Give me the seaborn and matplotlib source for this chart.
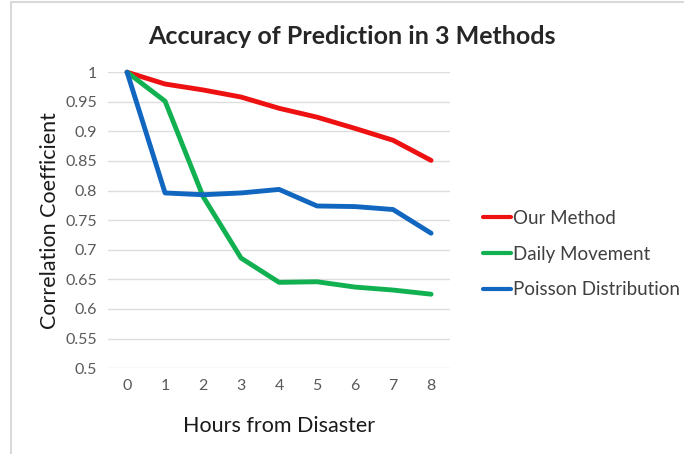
import pandas as pd
import matplotlib.pyplot as plt
import seaborn as sns
from matplotlib.lines import Line2D

hours = [0, 1, 2, 3, 4, 5, 6, 7, 8]
our_method = [1.0, 0.980, 0.970, 0.958, 0.939, 0.924, 0.905, 0.885, 0.851]
daily_movement = [1.0, 0.951, 0.790, 0.686, 0.645, 0.646, 0.637, 0.632, 0.625]
poisson = [1.0, 0.796, 0.793, 0.796, 0.802, 0.774, 0.773, 0.768, 0.728]
methods = ["Our Method", "Daily Movement", "Poisson Distribution"]
colors = ["#ee1111", "#11b050", "#1166c0"]

df = pd.DataFrame({"Hours": hours, methods[0]: our_method,
                   methods[1]: daily_movement, methods[2]: poisson})
long = df.melt(id_vars="Hours", var_name="Method", value_name="Corr")

sns.set_style("white")
plt.rcParams['font.family'] = ['Lato', 'DejaVu Sans']

fig = plt.figure(figsize=(6.84, 4.54), dpi=100)
ax = fig.add_axes([0.158, 0.189, 0.5, 0.652])

sns.lineplot(data=long, x="Hours", y="Corr", hue="Method", palette=colors,
             hue_order=methods, linewidth=3.5, ax=ax, legend=False)
for ln in ax.lines:
    ln.set_clip_on(False)
    ln.set_solid_capstyle("round")

ax.set_xlim(-0.5, 8.5)
ax.set_ylim(0.5, 1.0)
ax.set_xticks(hours)
ax.set_yticks([0.5, 0.55, 0.6, 0.65, 0.7, 0.75, 0.8, 0.85, 0.9, 0.95, 1.0])
ax.set_yticklabels(["0.5", "0.55", "0.6", "0.65", "0.7", "0.75", "0.8",
                    "0.85", "0.9", "0.95", "1"])
ax.yaxis.grid(True, color="#dddddd", linewidth=1)
ax.set_axisbelow(True)
sns.despine(ax=ax, left=True, bottom=True)
ax.tick_params(axis="both", length=0, labelsize=11.5, labelcolor="#595959", pad=8)

ax.set_xlabel("Hours from Disaster", fontsize=15.5, color="#1a1a1a", labelpad=16)
ax.set_ylabel("Correlation Coefficient", fontsize=15.5, color="#1a1a1a", labelpad=4)
fig.suptitle("Accuracy of Prediction in 3 Methods", x=0.515, y=0.945,
             fontsize=18, fontweight="bold")

handles = [Line2D([], [], color=c, linewidth=3) for c in colors]
fig.legend(handles, methods, loc="center left", bbox_to_anchor=(0.682, 0.44),
           frameon=False, fontsize=13.5, handlelength=1.5, handletextpad=0.1,
           labelspacing=1.0, labelcolor="#404040")

# light frame on left and top edges
fig.add_artist(Line2D([0.016, 0.016], [0, 0.995], color="#d9d9d9", linewidth=1.5,
                      transform=fig.transFigure))
fig.add_artist(Line2D([0.016, 1], [0.995, 0.995], color="#d9d9d9", linewidth=1.5,
                      transform=fig.transFigure))

fig.savefig("out.png", dpi=100)
